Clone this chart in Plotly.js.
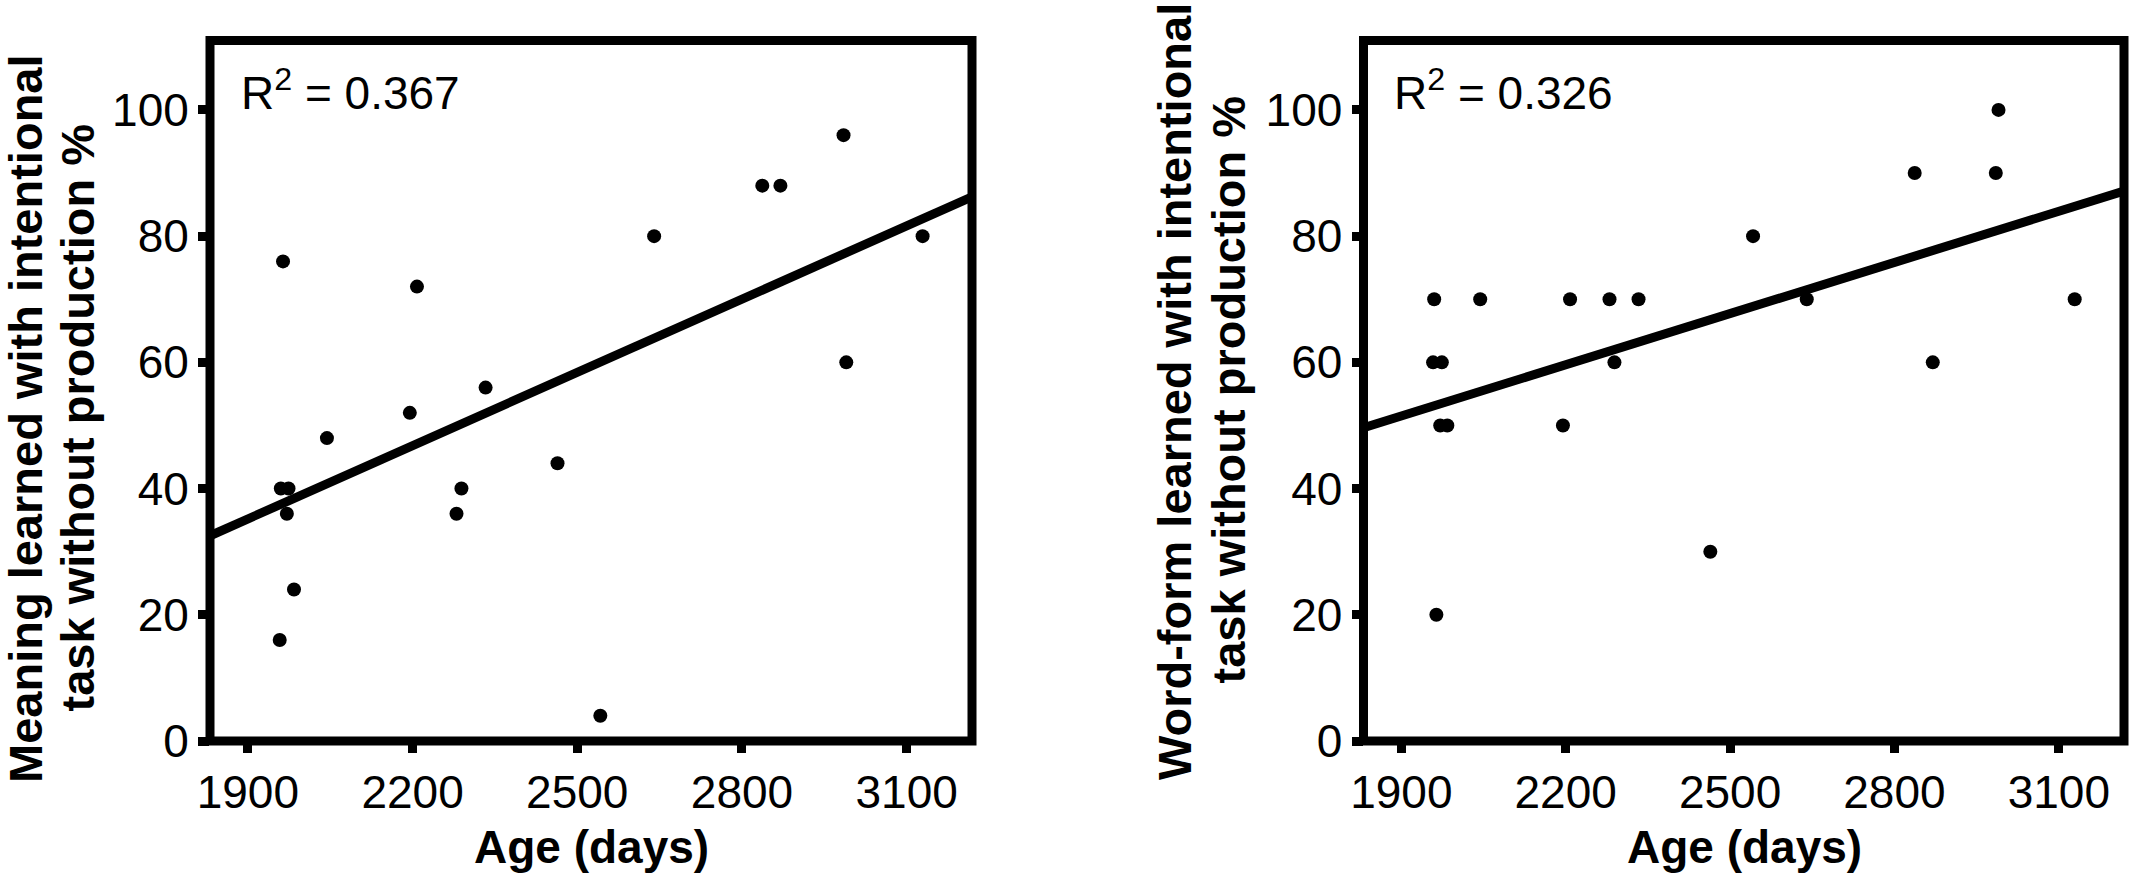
<!DOCTYPE html>
<html>
<head>
<meta charset="utf-8">
<script src="https://cdn.plot.ly/plotly-3.0.1.min.js"></script>
<style>html,body{margin:0;padding:0;background:#fff;}#chart{width:2133px;height:878px;}</style>
</head>
<body>
<div id="chart"></div>
<script>
// ---- data ----
const ages = [1958,1960,1964,1971,1974,1984,2044,2195,2208,2280,2289,2333,2464,2542,2640,2837,2870,2985,2990,3129];
const meaningPct = [16,40,76,36,40,24,48,52,72,36,40,56,44,4,80,88,88,96,60,80];
const wordFormPct = [60,70,20,50,60,50,70,50,70,70,60,70,30,80,70,90,60,90,100,70];
const r2Labels = ["0.367", "0.326"];
const xTickVals = [1900, 2200, 2500, 2800, 3100];
const yTickVals = [0, 20, 40, 60, 80, 100];
const xTitle = "Age (days)";
const yTitleLeft = ["Meaning learned with intentional", "task without production %"];
const yTitleRight = ["Word-form learned with intentional", "task without production %"];

// ---- layout constants ----
const W = 2133, H = 878;
const xRange = [1831, 3219];
const yRange = [0, 111];
const FONT = "Liberation Sans, Arial, Helvetica, sans-serif";

function fit(xs, ys) {
  const n = xs.length;
  const mx = xs.reduce((a, b) => a + b, 0) / n;
  const my = ys.reduce((a, b) => a + b, 0) / n;
  let sxy = 0, sxx = 0;
  for (let i = 0; i < n; i++) { sxy += (xs[i] - mx) * (ys[i] - my); sxx += (xs[i] - mx) ** 2; }
  const b = sxy / sxx, a = my - b * mx;
  return xRange.map(x => a + b * x);
}

const traces = [];
[[meaningPct, 'x', 'y'], [wordFormPct, 'x2', 'y2']].forEach(([vals, xa, ya]) => {
  traces.push({
    x: xRange.slice(), y: fit(ages, vals), xaxis: xa, yaxis: ya,
    mode: 'lines', line: {color: '#000', width: 9}, hoverinfo: 'skip', showlegend: false
  });
  traces.push({
    x: ages, y: vals, xaxis: xa, yaxis: ya,
    mode: 'markers', marker: {color: '#000', size: 14}, showlegend: false
  });
});

const xDomL = [210 / W, 972 / W];
const xDomR = [1363.5 / W, 2124 / W];
const yDom = [1 - 741 / H, 1 - 40.5 / H];

function xAxis(dom, anchor) {
  return {
    domain: dom, anchor: anchor, range: xRange, tickmode: 'array', tickvals: xTickVals,
    ticks: 'outside', ticklen: 11, tickwidth: 9, tickcolor: '#000',
    showline: false, showgrid: false, zeroline: false,
    tickfont: {family: FONT, size: 46, color: '#000'}
  };
}
function yAxis(anchor) {
  return {
    domain: yDom, anchor: anchor, range: yRange, tickmode: 'array', tickvals: yTickVals,
    ticks: 'outside', ticklen: 11, tickwidth: 9, tickcolor: '#000',
    showline: false, showgrid: false, zeroline: false,
    tickfont: {family: FONT, size: 46, color: '#000'}
  };
}

const shapes = [xDomL, xDomR].map(d => ({
  type: 'rect', xref: 'paper', yref: 'paper', x0: d[0], x1: d[1], y0: yDom[0], y1: yDom[1],
  line: {color: '#000', width: 9}, fillcolor: 'rgba(0,0,0,0)', layer: 'above'
}));

function ann(text, xpx, ypx, angle, size) {
  return {
    text: '<b>' + text + '</b>', xref: 'paper', yref: 'paper', x: xpx / W, y: 1 - ypx / H,
    xanchor: 'center', yanchor: 'middle', textangle: angle, showarrow: false,
    font: {family: FONT, size: size, color: '#000', weight: 'bold'}
  };
}
const annotations = [
  ann(yTitleLeft[0], 25, 419, -90, 47),
  ann(yTitleLeft[1], 77, 418.5, -90, 47),
  ann(yTitleRight[0], 1174, 392, -90, 47),
  ann(yTitleRight[1], 1228, 390.5, -90, 47),
  ann(xTitle, 591, 847, 0, 46),
  ann(xTitle, 1744, 847, 0, 46)
];
[[xDomL, 0], [xDomR, 1]].forEach(([d, i]) => {
  annotations.push({
    text: 'R<sup>2</sup> = ' + r2Labels[i], xref: 'paper', yref: 'paper',
    x: (d[0] * W + 28.5) / W, y: 1 - 121 / H, xanchor: 'left', yanchor: 'bottom',
    showarrow: false, font: {family: FONT, size: 46, color: '#000'}
  });
});

const layout = {
  width: W, height: H, margin: {l: 0, r: 0, t: 0, b: 0, pad: 0},
  paper_bgcolor: '#fff', plot_bgcolor: '#fff', showlegend: false,
  xaxis: xAxis(xDomL, 'y'), yaxis: yAxis('x'),
  xaxis2: xAxis(xDomR, 'y2'), yaxis2: yAxis('x2'),
  shapes: shapes, annotations: annotations
};

Plotly.newPlot('chart', traces, layout, {staticPlot: true, displayModeBar: false});
</script>
</body>
</html>
